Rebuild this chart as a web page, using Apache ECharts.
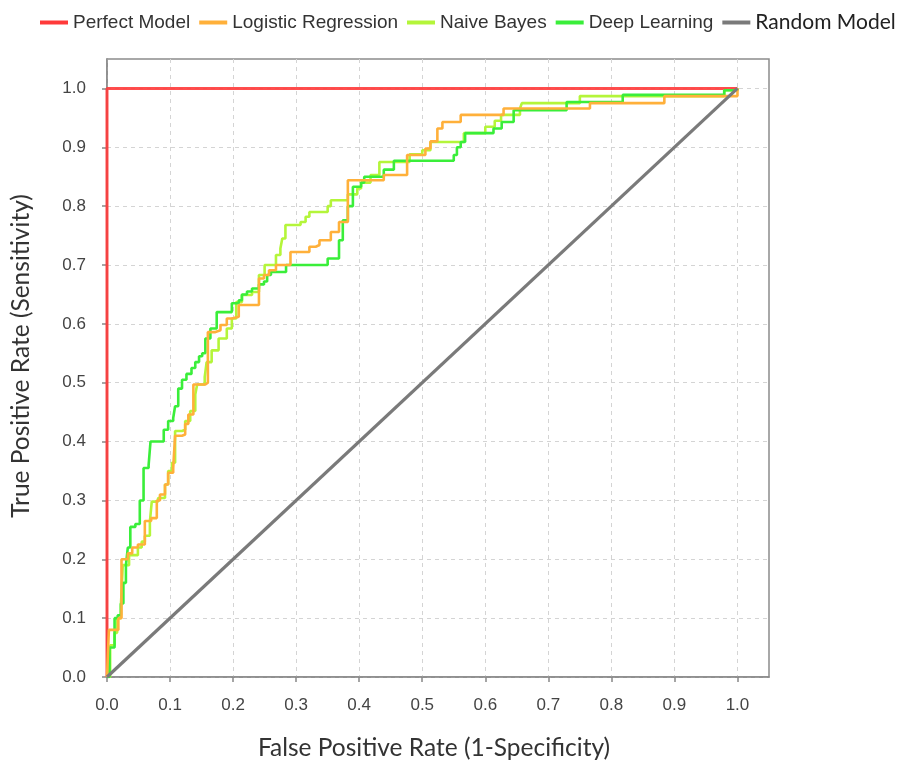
<!DOCTYPE html>
<html>
<head>
<meta charset="utf-8">
<script src="https://cdn.jsdelivr.net/npm/echarts@6/dist/echarts.min.js"></script>
<style>
  html, body { margin: 0; padding: 0; background: #ffffff; }
  #chart { width: 901px; height: 764px; }
</style>
</head>
<body>
<div id="chart"></div>
<script>
// ROC curves: each point is [false positive rate, true positive rate]
const seriesNames = ['Perfect Model', 'Logistic Regression', 'Naive Bayes', 'Deep Learning', 'Random Model'];

const perfectModel = [[0, 0], [0, 1], [1, 1]];
const randomModel = [[0, 0], [1, 1]];

// step curves: [fpr where the curve rises, tpr after the rise]
const logisticRegression = [
  [0, 0], [0.003, 0.08], [0.018, 0.10], [0.023, 0.20], [0.033, 0.21], [0.040, 0.22],
  [0.049, 0.225], [0.060, 0.265], [0.070, 0.27], [0.079, 0.30], [0.084, 0.31],
  [0.092, 0.327], [0.097, 0.347], [0.105, 0.355], [0.108, 0.41], [0.119, 0.412],
  [0.124, 0.43], [0.129, 0.446], [0.137, 0.497], [0.156, 0.50], [0.160, 0.586],
  [0.172, 0.589], [0.180, 0.598], [0.190, 0.609], [0.198, 0.612], [0.209, 0.632],
  [0.241, 0.677], [0.249, 0.683], [0.257, 0.691], [0.268, 0.70], [0.291, 0.722],
  [0.321, 0.731], [0.331, 0.734], [0.337, 0.742], [0.355, 0.756], [0.368, 0.773],
  [0.382, 0.844], [0.439, 0.853], [0.476, 0.887], [0.505, 0.898], [0.513, 0.91],
  [0.524, 0.932], [0.532, 0.943], [0.561, 0.955], [0.629, 0.966], [0.766, 0.975],
  [0.884, 0.987], [1.0, 1.0]
];

const naiveBayes = [
  [0, 0], [0.005, 0.054], [0.012, 0.075], [0.016, 0.10], [0.022, 0.12], [0.025, 0.19],
  [0.035, 0.207], [0.049, 0.22], [0.055, 0.23], [0.060, 0.24], [0.068, 0.264],
  [0.071, 0.298], [0.081, 0.304], [0.092, 0.327], [0.097, 0.35], [0.103, 0.364],
  [0.108, 0.418], [0.119, 0.42], [0.124, 0.435], [0.132, 0.452], [0.140, 0.48],
  [0.143, 0.497], [0.155, 0.51], [0.158, 0.535], [0.166, 0.555], [0.177, 0.575],
  [0.190, 0.592], [0.198, 0.609], [0.205, 0.637], [0.214, 0.649], [0.230, 0.654],
  [0.241, 0.683], [0.250, 0.70], [0.268, 0.717], [0.275, 0.728], [0.278, 0.745],
  [0.283, 0.768], [0.307, 0.773], [0.315, 0.782], [0.321, 0.79], [0.350, 0.80],
  [0.355, 0.81], [0.382, 0.82], [0.397, 0.83], [0.403, 0.84], [0.418, 0.853],
  [0.432, 0.875], [0.480, 0.888], [0.500, 0.895], [0.513, 0.909], [0.566, 0.924],
  [0.600, 0.935], [0.615, 0.945], [0.625, 0.955], [0.655, 0.966], [0.658, 0.975],
  [0.750, 0.987], [0.979, 0.997], [1.0, 1.0]
];

const deepLearning = [
  [0, 0], [0.004, 0.05], [0.012, 0.10], [0.017, 0.105], [0.022, 0.125], [0.026, 0.16],
  [0.030, 0.19], [0.033, 0.22], [0.037, 0.255], [0.045, 0.26], [0.052, 0.30],
  [0.058, 0.355], [0.066, 0.36], [0.069, 0.40], [0.090, 0.42], [0.097, 0.435],
  [0.105, 0.44], [0.108, 0.46], [0.113, 0.49], [0.119, 0.505], [0.126, 0.515],
  [0.134, 0.525], [0.140, 0.535], [0.146, 0.545], [0.151, 0.55], [0.156, 0.575],
  [0.164, 0.592], [0.174, 0.62], [0.198, 0.635], [0.209, 0.64], [0.214, 0.65],
  [0.222, 0.655], [0.230, 0.66], [0.241, 0.667], [0.249, 0.672], [0.254, 0.683],
  [0.260, 0.688], [0.284, 0.70], [0.350, 0.711], [0.368, 0.742], [0.374, 0.776],
  [0.382, 0.80], [0.390, 0.833], [0.403, 0.84], [0.408, 0.85], [0.439, 0.862],
  [0.455, 0.877], [0.550, 0.887], [0.555, 0.90], [0.561, 0.909], [0.568, 0.924],
  [0.613, 0.932], [0.626, 0.943], [0.645, 0.963], [0.729, 0.977], [0.818, 0.989],
  [0.979, 0.997], [1.0, 1.0]
];

const tickValues = [0, 0.1, 0.2, 0.3, 0.4, 0.5, 0.6, 0.7, 0.8, 0.9, 1.0];
const axisMax = 1.05;

const xTitle = 'False Positive Rate (1-Specificity)';
const yTitle = 'True Positive Rate (Sensitivity)';

const colors = {
  'Perfect Model': '#ff3a3a',
  'Logistic Regression': '#ffb03a',
  'Naive Bayes': '#b4f53a',
  'Deep Learning': '#3aee3a',
  'Random Model': '#7a7a7a'
};

const tickFont = 'Liberation Sans, Arial, sans-serif';
const titleFont = 'Lato, Carlito, Calibri, sans-serif';

const chart = echarts.init(document.getElementById('chart'), null, { renderer: 'canvas' });

function valueAxis(labelMargin, offset) {
  return {
    type: 'value',
    min: 0,
    max: axisMax,
    interval: 0.1,
    offset: offset,
    axisLine: { show: true, lineStyle: { color: '#888888', width: 1.5 } },
    axisTick: { show: true, length: 5, customValues: tickValues, lineStyle: { color: '#888888', width: 1.5 } },
    axisLabel: {
      customValues: tickValues,
      margin: labelMargin,
      color: '#444444',
      fontFamily: tickFont,
      fontSize: 17,
      formatter: v => v.toFixed(1)
    },
    splitLine: { show: true, lineStyle: { color: '#d4d4d4', width: 1, type: [4, 4] } }
  };
}

function curve(name, data, opts) {
  return Object.assign({
    name: name,
    type: 'line',
    data: data,
    showSymbol: false,
    symbol: 'none',
    silent: true,
    animation: false,
    lineStyle: { color: colors[name], width: 2.6 },
    itemStyle: { color: colors[name] }
  }, opts || {});
}

chart.setOption({
  animation: false,
  backgroundColor: '#ffffff',
  legend: {
    top: 12,
    left: 40,
    width: 880,
    padding: 0,
    icon: 'rect',
    itemWidth: 28,
    itemHeight: 4,
    itemGap: 9,
    textStyle: { fontFamily: tickFont, fontSize: 19, color: '#333333' },
    data: [
      { name: 'Perfect Model' },
      { name: 'Logistic Regression' },
      { name: 'Naive Bayes' },
      { name: 'Deep Learning' },
      { name: 'Random Model', textStyle: { fontFamily: titleFont, fontSize: 21, color: '#222222' } }
    ]
  },
  grid: {
    left: 107,
    top: 59,
    right: 132,
    bottom: 87,
    show: true,
    borderColor: '#8c8c8c',
    borderWidth: 1.5,
    containLabel: false
  },
  xAxis: valueAxis(11, 9),
  yAxis: valueAxis(13, 8),
  graphic: [
    {
      type: 'text',
      x: 434,
      y: 748,
      style: {
        text: xTitle,
        font: '24.5px ' + titleFont,
        fill: '#333333',
        textAlign: 'center',
        textVerticalAlign: 'middle'
      }
    },
    {
      type: 'text',
      x: 21,
      y: 356,
      rotation: Math.PI / 2,
      style: {
        text: yTitle,
        font: '24.5px ' + titleFont,
        fill: '#333333',
        textAlign: 'center',
        textVerticalAlign: 'middle'
      }
    }
  ],
  series: [
    curve('Perfect Model', perfectModel, { lineStyle: { color: colors['Perfect Model'], width: 3, opacity: 0.9 }, z: 3 }),
    curve('Logistic Regression', logisticRegression, { step: 'end', z: 4 }),
    curve('Naive Bayes', naiveBayes, { step: 'end', z: 3 }),
    curve('Deep Learning', deepLearning, { step: 'end', z: 3 }),
    curve('Random Model', randomModel, { lineStyle: { color: colors['Random Model'], width: 3.2 }, z: 5 })
  ]
});
</script>
</body>
</html>
